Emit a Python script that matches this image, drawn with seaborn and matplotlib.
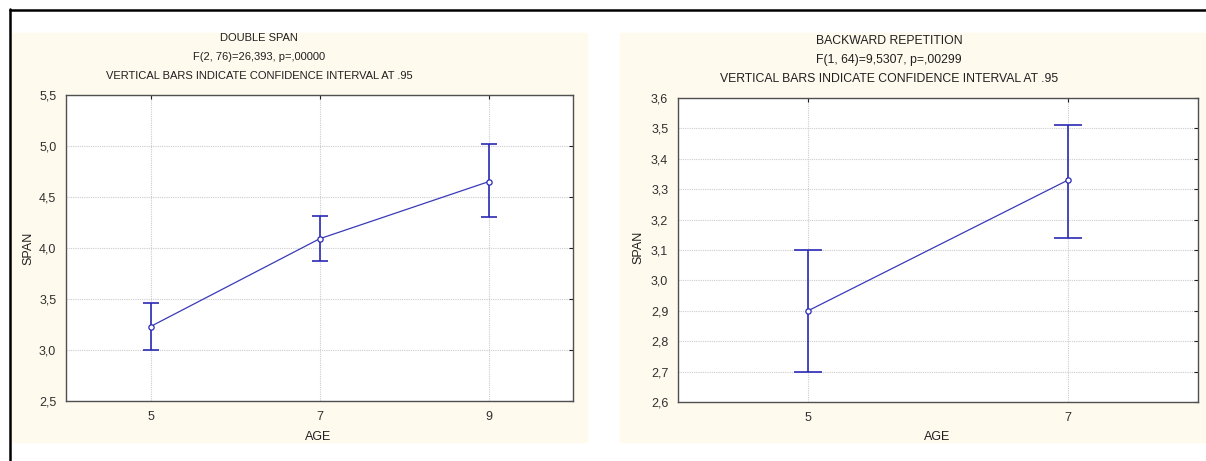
import matplotlib
matplotlib.use("Agg")
import matplotlib.pyplot as plt
import matplotlib.ticker as mticker
from matplotlib.patches import Rectangle
from matplotlib.lines import Line2D
import seaborn as sns
import pandas as pd

# data
age_double = [5, 7, 9]
span_double = [3.23, 4.09, 4.65]
ci_low_double = [3.00, 3.87, 4.30]
ci_high_double = [3.46, 4.31, 5.02]

age_back = [5, 7]
span_back = [2.90, 3.33]
ci_low_back = [2.70, 3.14]
ci_high_back = [3.10, 3.51]

titles_double = ["DOUBLE SPAN", "F(2, 76)=26,393, p=,00000",
                 "VERTICAL BARS INDICATE CONFIDENCE INTERVAL AT .95"]
titles_back = ["BACKWARD REPETITION", "F(1, 64)=9,5307, p=,00299",
               "VERTICAL BARS INDICATE CONFIDENCE INTERVAL AT .95"]

sns.set_style("white")
plt.rcParams['font.family'] = ['Liberation Sans', 'DejaVu Sans']

W, H = 1206, 461
fig = plt.figure(figsize=(W / 100, H / 100), dpi=100)
fig.patch.set_facecolor("white")

def px(x0, y0, x1, y1):
    # pixel box -> figure fraction [left, bottom, width, height]
    return [x0 / W, 1 - y1 / H, (x1 - x0) / W, (y1 - y0) / H]

cream = "#fffaee"
fig.patches.append(Rectangle((12 / W, 1 - 442 / H), 575 / W, 409 / H,
                             transform=fig.transFigure, color=cream, zorder=-5))
fig.patches.append(Rectangle((620 / W, 1 - 442 / H), 586 / W, 409 / H,
                             transform=fig.transFigure, color=cream, zorder=-5))
fig.lines.append(Line2D([9.5 / W, 1], [1 - 10 / H, 1 - 10 / H], color="black",
                        lw=1.8, transform=fig.transFigure))
fig.lines.append(Line2D([10 / W, 10 / W], [0, 1 - 9.5 / H], color="black",
                        lw=1.8, transform=fig.transFigure))

blue = "#2a2ab4"
comma = mticker.FuncFormatter(lambda v, p: f"{v:.1f}".replace(".", ","))


def panel(box, ages, means, lo, hi, xlim, ylim, ystep, cap, fs):
    ax = fig.add_axes(px(*box))
    ax.set_facecolor("white")
    df = pd.DataFrame({"AGE": ages, "SPAN": means})
    err = [[m - l for m, l in zip(means, lo)], [h - m for m, h in zip(means, hi)]]
    ax.errorbar(df["AGE"], df["SPAN"], yerr=err, fmt="none", ecolor=blue,
                elinewidth=1.2, capsize=cap, capthick=1.2, zorder=2)
    sns.lineplot(data=df, x="AGE", y="SPAN", ax=ax, color="#3a3ab8", lw=0.9,
                 marker="o", markersize=3.8, markerfacecolor="white",
                 markeredgecolor=blue, markeredgewidth=0.9, zorder=3)
    ax.set_xlim(*xlim)
    ax.set_ylim(*ylim)
    ax.set_xticks(ages)
    ax.yaxis.set_major_locator(mticker.MultipleLocator(ystep))
    ax.yaxis.set_major_formatter(comma)
    ax.grid(True, ls=(0, (1, 1)), color="#cccccc", lw=0.8)
    ax.tick_params(direction="in", length=3, width=0.8, color="#202020",
                   top=True, right=True, labelsize=fs, pad=7, labelcolor="#303030")
    for s in ax.spines.values():
        s.set_color("#505050")
        s.set_linewidth(1.0)
    ax.set_xlabel("")
    ax.set_ylabel("")
    return ax


panel((66, 95, 573, 401), age_double, span_double, ci_low_double, ci_high_double,
      (4, 10), (2.5, 5.5), 0.5, 5.8, 9)
panel((678, 98, 1198, 402), age_back, span_back, ci_low_back, ci_high_back,
      (4, 8), (2.6, 3.6), 0.1, 10, 9)

for i, t in enumerate(titles_double):
    fig.text(259 / W, 1 - (38 + 19 * i) / H, t, ha="center", va="center",
             fontsize=8.0, color="#202020")
for i, t in enumerate(titles_back):
    fig.text(889 / W, 1 - (41 + 19 * i) / H, t, ha="center", va="center",
             fontsize=8.8, color="#202020")

fig.text(318 / W, 1 - 437 / H, "AGE", ha="center", va="center", fontsize=9, color="#202020")
fig.text(937 / W, 1 - 437 / H, "AGE", ha="center", va="center", fontsize=9, color="#202020")
fig.text(28 / W, 1 - 248 / H, "SPAN", ha="center", va="center", rotation=90,
         fontsize=9, color="#202020")
fig.text(638 / W, 1 - 247 / H, "SPAN", ha="center", va="center", rotation=90,
         fontsize=9, color="#202020")

fig.savefig("out.png", dpi=100)
